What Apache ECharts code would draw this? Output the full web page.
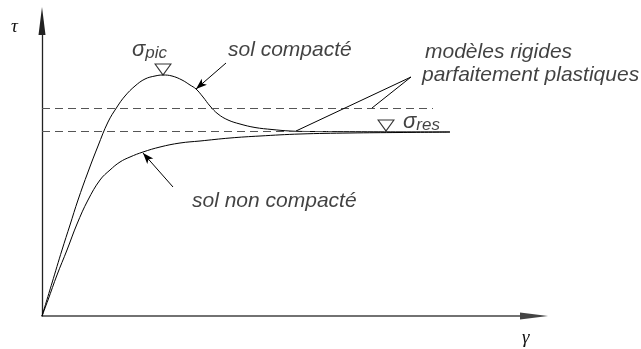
<!DOCTYPE html>
<html>
<head>
<meta charset="utf-8">
<script src="https://cdn.jsdelivr.net/npm/echarts@6/dist/echarts.min.js"></script>
<style>html,body{margin:0;padding:0;background:#fff}#main{width:641px;height:349px}</style>
</head>
<body>
<div id="main"></div>
<script>
// courbe sol compacté (γ, τ)
var compactGamma = [0, 10, 20, 28, 36, 46, 56, 66, 75, 83, 93, 103, 113, 121, 130, 140, 148, 154, 161, 168, 176, 186, 198, 213, 230, 248, 268, 408];
var compactTau   = [0, 33, 66, 91, 116, 144, 170, 194, 209, 220, 230, 237, 240, 241, 240, 236, 231, 227, 219, 210, 202, 196, 192, 188.5, 186.5, 185, 184.5, 184];
// courbe sol non compacté
var looseGamma = [0, 6, 15, 25, 35, 46, 58, 68, 78, 88, 101, 118, 138, 158, 188, 218, 258, 308, 358, 408];
var looseTau   = [0, 16, 41, 66, 92, 116, 136, 146, 154, 159, 164, 169, 173, 175, 178, 180, 182, 183, 183.5, 184];
// niveaux pic / résiduel (lignes pointillées)
var picLevel = 208;
var resLevel = 185;
var picDashEnd = 391;
var resDashEnd = 290;
// repères triangles
var triGamma = [121, 344];
var triTau = [241, 185];
// textes
var labelTexts = ['{s|σ}{sub|pic}', 'sol compacté', 'modèles rigides', 'parfaitement plastiques', '{s|σ}{sub|res}', 'sol non compacté'];
var labelGamma = [90, 186, 383, 380, 361, 150];
var labelTau = [266, 266, 264, 241, 194, 115];
// flèches / traits de renvoi [γ1, τ1, γ2, τ2]
var leaders = [
  [184, 253, 154, 227, 'arrow'],
  [131, 129, 101, 163, 'arrow'],
  [369, 239, 254, 185, 'none'],
  [369, 239, 330, 208, 'none']
];

function zip(a, b) { return a.map(function (v, i) { return [v, b[i]]; }); }

var myChart = echarts.init(document.getElementById('main'));
var font = 'Liberation Sans';

var option = {
  animation: false,
  grid: { left: 42, right: 107, top: 21, bottom: 33 },
  xAxis: {
    type: 'value', min: 0, max: 492,
    axisLine: { show: true, symbol: ['none', 'triangle'], symbolSize: [7, 28], lineStyle: { color: '#444', width: 1.5 } },
    axisTick: { show: false }, axisLabel: { show: false }, splitLine: { show: false }
  },
  yAxis: {
    type: 'value', min: 0, max: 295,
    axisLine: { show: true, symbol: ['none', 'triangle'], symbolSize: [7, 28], lineStyle: { color: '#222', width: 1.3 } },
    axisTick: { show: false }, axisLabel: { show: false }, splitLine: { show: false }
  },
  graphic: [
    { type: 'text', left: 11, top: 17, style: { text: 'τ', font: 'italic 19px "Liberation Serif"', fill: '#111' } },
    { type: 'text', left: 522, top: 328, style: { text: 'γ', font: 'italic 19px "Liberation Serif"', fill: '#111' } }
  ],
  series: [
    {
      type: 'line', data: zip(compactGamma, compactTau), smooth: 0.4, showSymbol: false,
      lineStyle: { color: '#000', width: 1 },
      markLine: {
        silent: true, symbol: 'none', label: { show: false },
        lineStyle: { color: '#555', width: 1, type: [8, 5] },
        data: [
          [{ coord: [0, picLevel] }, { coord: [picDashEnd, picLevel] }],
          [{ coord: [0, resLevel] }, { coord: [resDashEnd, resLevel] }]
        ]
      }
    },
    {
      type: 'line', data: zip(looseGamma, looseTau), smooth: 0.4, showSymbol: false,
      lineStyle: { color: '#000', width: 1 },
      markLine: {
        silent: true, label: { show: false }, symbolSize: [6, 11],
        lineStyle: { color: '#000', width: 1, type: 'solid' },
        data: leaders.map(function (l) {
          return [{ coord: [l[0], l[1]], symbol: 'none' }, { coord: [l[2], l[3]], symbol: l[4] }];
        })
      }
    },
    {
      type: 'scatter', data: zip(triGamma, triTau), symbol: 'triangle', symbolRotate: 180,
      symbolSize: [16, 11], symbolOffset: [0, -5.5],
      itemStyle: { color: '#fff', borderColor: '#000', borderWidth: 1 }, z: 5
    },
    {
      type: 'scatter', symbolSize: 0,
      data: labelTexts.map(function (t, i) {
        return { value: [labelGamma[i], labelTau[i]], label: { formatter: t } };
      }),
      label: {
        show: true, position: 'right', distance: 0,
        fontFamily: font, fontStyle: 'italic', fontSize: 21, color: '#111',
        rich: {
          s: { fontFamily: font, fontStyle: 'italic', fontSize: 22, color: '#111' },
          sub: { fontFamily: font, fontStyle: 'italic', fontSize: 17, color: '#111', padding: [6, 0, 0, 0] }
        }
      }
    }
  ]
};
myChart.setOption(option);
</script>
</body>
</html>
